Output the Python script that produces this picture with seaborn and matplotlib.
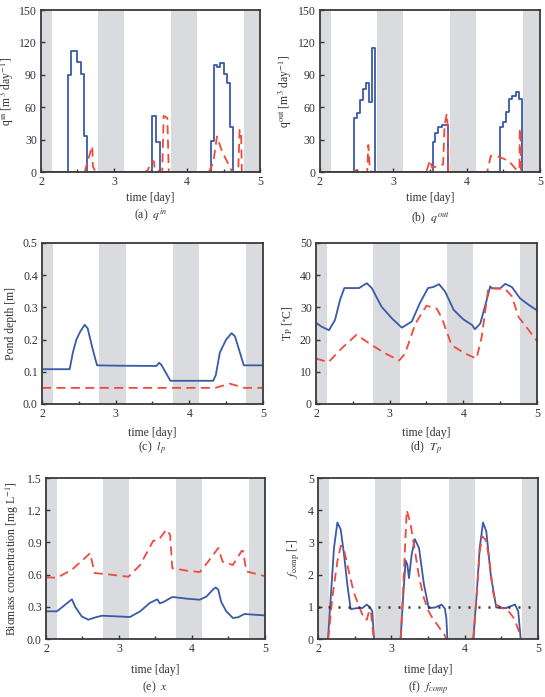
import matplotlib
matplotlib.use('Agg')
import matplotlib.pyplot as plt
import seaborn as sns
import pandas as pd
import numpy as np

# night periods (grey bands), in days
night_start = [2.0, 2.78, 3.78, 4.775]
night_end = [2.145, 3.135, 4.135, 5.0]

# (a) q_in
qin_blue_t = [2.0, 2.375, 2.417, 2.5, 2.542, 2.583, 2.625, 3.52, 3.58, 3.625,
              4.333, 4.375, 4.417, 4.458, 4.5, 4.542, 4.583, 4.625, 5.0]
qin_blue = [0, 90, 112, 102, 91, 33, 0, 52, 28, 0, 29, 99, 97, 101, 91, 82, 42, 0, 0]
qin_red_t = [2.0, 2.60, 2.614, 2.70, 2.705, 2.71, 2.75, 3.42, 3.46, 3.52, 3.545, 3.56, 3.66,
             3.68, 3.73, 3.75, 4.30, 4.36, 4.41, 4.48, 4.59, 4.62, 4.70, 4.72, 4.74, 4.75, 5.0]
qin_red = [0, 0, 4, 24, 20, 5, 0, 0, 1.5, 10, 10, 2, 0, 52, 50, 0, 0, 9, 33, 19, 4, 0, 0, 39, 38, 0, 0]

# (b) q_out
qout_blue_t = [2.0, 2.458, 2.5, 2.542, 2.583, 2.625, 2.667, 2.708, 2.75, 3.537, 3.568, 3.61,
               3.66, 3.75, 4.458, 4.5, 4.542, 4.583, 4.625, 4.667, 4.708, 4.75, 5.0]
qout_blue = [0, 50, 55, 67, 77, 82, 65, 115, 0, 28, 36, 42, 44, 0, 42, 46, 56, 68, 70, 74, 68, 0, 0]
qout_red_t = [2.0, 2.46, 2.50, 2.60, 2.645, 2.66, 2.67, 2.68, 2.70, 3.45, 3.50, 3.53, 3.68, 3.70,
              3.73, 3.745, 3.75, 4.28, 4.33, 4.45, 4.58, 4.68, 4.72, 4.725, 4.735, 4.74, 5.0]
qout_red = [0, 0, 2, 0, 0, 25, 15, 3, 0, 0, 11, 4, 7, 44, 54, 40, 0, 0, 15, 14, 10, 2, 2, 40, 40, 0, 0]

# (c) pond depth
lp_blue_t = [2.0, 2.376, 2.42, 2.467, 2.52, 2.58, 2.62, 2.70, 2.748, 3.0, 3.554, 3.59, 3.62,
             3.744, 4.0, 4.325, 4.36, 4.415, 4.50, 4.574, 4.62, 4.66, 4.74, 5.0]
lp_blue = [0.108, 0.108, 0.16, 0.20, 0.225, 0.246, 0.235, 0.16, 0.12, 0.119, 0.118, 0.128, 0.122,
           0.072, 0.072, 0.072, 0.09, 0.16, 0.20, 0.22, 0.21, 0.18, 0.12, 0.12]
lp_red_t = [2.0, 4.35, 4.55, 4.75, 5.0]
lp_red = [0.05, 0.05, 0.063, 0.05, 0.05]

# (d) pond temperature
tp_blue_t = [2.0, 2.077, 2.177, 2.258, 2.326, 2.385, 2.585, 2.64, 2.69, 2.757, 2.89, 3.03, 3.165,
             3.30, 3.41, 3.52, 3.59, 3.67, 3.75, 3.87, 4.0, 4.12, 4.157, 4.23, 4.30, 4.365, 4.39,
             4.50, 4.57, 4.66, 4.77, 4.886, 5.0]
tp_blue = [25.2, 24.0, 22.9, 26.1, 32.3, 36.0, 36.0, 36.8, 37.5, 36.0, 30.2, 26.6, 23.7,
           25.6, 31.3, 36.0, 36.3, 37.2, 35.0, 29.2, 26.3, 24.5, 23.2, 25.0, 30.8, 36.5, 35.9,
           35.9, 37.3, 36.3, 32.8, 30.8, 29.1]
tp_red_t = [2.0, 2.17, 2.35, 2.55, 2.757, 2.94, 3.13, 3.21, 3.35, 3.50, 3.64, 3.71, 3.84, 4.02,
            4.18, 4.25, 4.34, 4.57, 4.66, 4.75, 4.886, 5.0]
tp_red = [14.1, 13.0, 17.3, 21.5, 18.3, 15.7, 13.5, 15.7, 25.0, 30.5, 29.6, 26.6, 18.3, 15.7,
          14.1, 20.9, 36.0, 35.7, 33.4, 27.0, 23.0, 19.5]

# (e) biomass concentration
x_blue_t = [2.0, 2.15, 2.264, 2.355, 2.40, 2.49, 2.58, 2.67, 2.765, 2.97, 3.15, 3.29, 3.42,
            3.525, 3.56, 3.61, 3.72, 3.745, 3.925, 4.107, 4.2, 4.29, 4.325, 4.36, 4.40, 4.47,
            4.56, 4.63, 4.72, 4.84, 5.0]
x_blue = [0.258, 0.258, 0.32, 0.37, 0.30, 0.21, 0.18, 0.20, 0.217, 0.211, 0.205, 0.258, 0.335,
          0.37, 0.332, 0.345, 0.388, 0.391, 0.376, 0.366, 0.397, 0.463, 0.48, 0.46, 0.345, 0.258,
          0.196, 0.202, 0.233, 0.227, 0.22]
x_red_t = [2.0, 2.15, 2.355, 2.51, 2.605, 2.665, 2.88, 3.13, 3.29, 3.47, 3.54, 3.65, 3.70, 3.73,
           3.925, 4.107, 4.22, 4.36, 4.42, 4.56, 4.68, 4.70, 4.745, 5.0]
x_red = [0.575, 0.57, 0.646, 0.74, 0.80, 0.615, 0.60, 0.58, 0.69, 0.916, 0.92, 1.02, 0.97, 0.66,
         0.637, 0.624, 0.72, 0.848, 0.72, 0.69, 0.82, 0.82, 0.63, 0.585]

# (f) f_comp, one curve per daylight cycle
fc_blue_t = [2.136, 2.173, 2.218, 2.264, 2.31, 2.355, 2.40, 2.445, 2.536, 2.605, 2.665, 2.71, 2.74, 2.764,
             3.127, 3.16, 3.195, 3.218, 3.24, 3.277, 3.32, 3.377, 3.445, 3.51, 3.60, 3.686, 3.73, 3.75, 3.764,
             4.118, 4.16, 4.205, 4.25, 4.295, 4.355, 4.43, 4.56, 4.686, 4.73, 4.764]
fc_blue = [0, 1.27, 2.83, 3.62, 3.4, 2.62, 1.69, 0.93, 0.96, 0.96, 1.07, 0.98, 0.86, 0,
           0, 1.27, 2.44, 2.31, 1.89, 2.62, 3.1, 2.83, 1.69, 0.96, 0.98, 1.07, 0.94, 0.65, 0,
           0, 1.27, 2.83, 3.62, 3.34, 2.0, 0.98, 0.96, 1.07, 0.86, 0]
fc_red_t = [2.14, 2.195, 2.264, 2.31, 2.355, 2.42, 2.49, 2.58, 2.63, 2.665, 2.70, 2.72, 2.76,
            3.127, 3.17, 3.21, 3.26, 3.32, 3.38, 3.44, 3.5, 3.56, 3.64, 3.69, 3.72, 3.75,
            4.118, 4.16, 4.205, 4.24, 4.285, 4.33, 4.385, 4.43, 4.51, 4.6, 4.67, 4.74, 4.764]
fc_red = [0, 1.27, 2.41, 2.9, 2.77, 2.1, 1.43, 0.9, 0.62, 0.6, 0.9, 0.85, 0,
          0, 2.0, 4.0, 3.6, 2.76, 1.9, 1.3, 0.9, 0.65, 0.4, 0.23, 0.15, 0,
          0, 1.27, 2.72, 3.19, 3.08, 2.57, 1.48, 1.07, 0.96, 0.86, 0.65, 0.24, 0]
fc_ref = 1.0

BLUE = '#3a5aa8'
RED = '#ef4a3c'
GREY = '#d9dbde'
INK = '#333333'
FS = 8.5

sns.set_theme(style='white')
plt.rcParams['font.family'] = ['Liberation Serif', 'DejaVu Serif']
plt.rcParams['mathtext.fontset'] = 'stix'

fig = plt.figure(figsize=(5.45, 6.97), dpi=100)
pos = [
    [0.0752, 0.7532, 0.402, 0.2324],
    [0.587, 0.7532, 0.4037, 0.2324],
    [0.077, 0.4204, 0.4055, 0.231],
    [0.5798, 0.4204, 0.4055, 0.231],
    [0.0844, 0.0832, 0.4018, 0.231],
    [0.5835, 0.0832, 0.4037, 0.231],
]
cap_y = [1 - 215 / 697, 1 - 218 / 697, 1 - 448 / 697, 1 - 448 / 697, 1 - 687 / 697, 1 - 687 / 697]
xpad = [2.5, 2.5, 5, 5, 6, 6]
ypad = [2, 3, 4, 4, 4, 4]
axes = [fig.add_axes(p) for p in pos]

dash = (0, (5, 3))


def cycles(t):
    t = np.asarray(t)
    return np.concatenate([[0], np.cumsum(np.diff(t) > 0.2)])


def blue(ax, t, y, **kw):
    sns.lineplot(x=t, y=y, ax=ax, color=BLUE, lw=1.3, sort=False, estimator=None, **kw)


def red(ax, t, y, **kw):
    sns.lineplot(x=t, y=y, ax=ax, color=RED, lw=1.3, linestyle=dash, sort=False,
                 estimator=None, **kw)


blue(axes[0], qin_blue_t, qin_blue, drawstyle='steps-post')
red(axes[0], qin_red_t, qin_red)
blue(axes[1], qout_blue_t, qout_blue, drawstyle='steps-post')
red(axes[1], qout_red_t, qout_red)
blue(axes[2], lp_blue_t, lp_blue)
red(axes[2], lp_red_t, lp_red)
blue(axes[3], tp_blue_t, tp_blue)
red(axes[3], tp_red_t, tp_red)
blue(axes[4], x_blue_t, x_blue)
red(axes[4], x_red_t, x_red)

fb = pd.DataFrame({'t': fc_blue_t, 'f': fc_blue, 'c': cycles(fc_blue_t)})
fr = pd.DataFrame({'t': fc_red_t, 'f': fc_red, 'c': cycles(fc_red_t)})
sns.lineplot(data=fb, x='t', y='f', units='c', estimator=None, sort=False, ax=axes[5],
             color=BLUE, lw=1.3)
sns.lineplot(data=fr, x='t', y='f', units='c', estimator=None, sort=False, ax=axes[5],
             color=RED, lw=1.3, linestyle=dash)
axes[5].axhline(fc_ref, color=INK, lw=1.8, linestyle=(0, (0.8, 3.2)), zorder=3)

ylims = [(0, 150), (0, 150), (0, 0.5), (0, 50), (0, 1.5), (0, 5)]
yticks = [[0, 30, 60, 90, 120, 150], [0, 30, 60, 90, 120, 150],
          [0.0, 0.1, 0.2, 0.3, 0.4, 0.5], [0, 10, 20, 30, 40, 50],
          [0.0, 0.3, 0.6, 0.9, 1.2, 1.5], [0, 1, 2, 3, 4, 5]]
yfmt = ['{:.0f}', '{:.0f}', '{:.1f}', '{:.0f}', '{:.1f}', '{:.0f}']
ylabels = [r'q$^{\mathrm{in}}$ [m$^3$ day$^{-1}$]',
           r'q$^{\mathrm{out}}$ [m$^3$ day$^{-1}$]',
           'Pond depth [m]',
           r'T$_\mathrm{P}$ [$^{\circ}$C]',
           r'Biomass concentration [mg L$^{-1}$]',
           r'$f_{\mathrm{comp}}$ [-]']
captions = [r'(a)  $q^{in}$', r'(b)  $q^{out}$', r'(c)  $l_p$',
            r'(d)  $T_p$', r'(e)  $x$', r'(f)  $f_{comp}$']

for i, ax in enumerate(axes):
    for a, b in zip(night_start, night_end):
        ax.axvspan(a, b, color=GREY, lw=0, zorder=0)
    ax.set_xlim(2, 5)
    ax.set_ylim(*ylims[i])
    ax.set_xticks([2, 3, 4, 5])
    ax.set_xticks([2.5, 3.5, 4.5], minor=True)
    ax.set_yticks(yticks[i])
    ax.set_yticklabels([yfmt[i].format(v) for v in yticks[i]])
    ax.set_xlabel('time [day]', labelpad=xpad[i], fontsize=FS, color=INK)
    ax.set_ylabel(ylabels[i], labelpad=ypad[i], fontsize=FS, color=INK)
    ax.tick_params(axis='both', which='major', direction='in', length=3, width=1,
                   color=INK, labelsize=FS, labelcolor=INK, pad=3)
    ax.tick_params(axis='x', which='minor', direction='in', length=2, width=1,
                   color=INK, bottom=True)
    ax.tick_params(left=True, bottom=True)
    for s in ax.spines.values():
        s.set_color('#3a3a3a')
        s.set_linewidth(1.3)
    ax.set_facecolor('white')
    bb = ax.get_position()
    fig.text(bb.x0 + bb.width / 2, cap_y[i], captions[i], ha='center', va='center',
             fontsize=FS, color=INK)

fig.savefig('out.png', dpi=100)
